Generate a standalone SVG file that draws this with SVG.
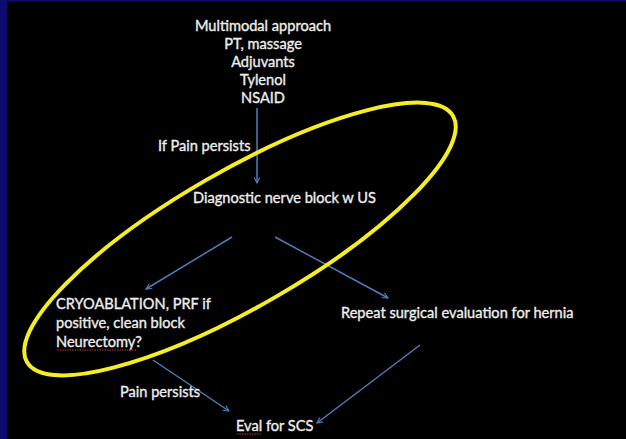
<svg xmlns="http://www.w3.org/2000/svg" width="626" height="439" viewBox="0 0 626 439">
  <style>
    .t { font-family: Lato, "Liberation Sans", sans-serif; font-size: 14.6px; fill: #eeeeee; stroke: #eeeeee; stroke-width: 0.35px; }
    .c { text-anchor: middle; }
    .a { stroke: #4a7ebb; stroke-width: 1.5; fill: none; }
    .sq { stroke: #c83232; stroke-width: 1; stroke-dasharray: 1.5 1; fill: none; }
  </style>
  <defs>
    <marker id="arr" viewBox="0 0 10 10" refX="9" refY="5" markerWidth="7" markerHeight="7" markerUnits="userSpaceOnUse" orient="auto">
      <path d="M1,1 L9,5 L1,9" fill="none" stroke="#4a7ebb" stroke-width="1.6"/>
    </marker>
  </defs>
  <rect x="0" y="0" width="626" height="439" fill="#000000"/>
  <rect x="0" y="0" width="626" height="1.5" fill="#0c0c6e"/>
  <rect x="0" y="0" width="7" height="439" fill="#0c0c6e"/>

  <g id="connectors">
    <line class="a" x1="257" y1="108" x2="257" y2="183" marker-end="url(#arr)"/>
    <line class="a" x1="232" y1="237" x2="146" y2="289" marker-end="url(#arr)"/>
    <line class="a" x1="275" y1="237" x2="388" y2="298" marker-end="url(#arr)"/>
    <line class="a" x1="153" y1="360" x2="229" y2="411" marker-end="url(#arr)"/>
    <line class="a" x1="420" y1="345" x2="317" y2="423" marker-end="url(#arr)"/>
  </g>

  <g id="ellipse">
    <ellipse cx="240" cy="239" rx="246" ry="68" transform="rotate(-30 240 239)" fill="none" stroke="#f4ee22" stroke-width="4"/>
  </g>

  <g id="n-multimodal">
    <text class="t c" x="263" y="31">Multimodal approach</text>
    <text class="t c" x="263" y="49">PT, massage</text>
    <text class="t c" x="263" y="67">Adjuvants</text>
    <text class="t c" x="263" y="85">Tylenol</text>
    <text class="t c" x="263" y="103">NSAID</text>
  </g>
  <g id="l-ifpain">
    <text class="t" x="158" y="151">If Pain persists</text>
  </g>
  <g id="n-diagnostic">
    <text class="t" x="193" y="203">Diagnostic nerve block w US</text>
  </g>
  <g id="n-cryo">
    <text class="t" x="56" y="309">CRYOABLATION, PRF if</text>
    <text class="t" x="56" y="328">positive, clean block</text>
    <text class="t" x="56" y="347">Neurectomy?</text>
    <path class="sq" d="M57,350 L136,350"/>
  </g>
  <g id="n-repeat">
    <text class="t" x="341" y="318">Repeat surgical evaluation for hernia</text>
  </g>
  <g id="l-painpersists">
    <text class="t" x="120" y="397">Pain persists</text>
  </g>
  <g id="n-scs">
    <text class="t" x="236" y="431">Eval for SCS</text>
    <path class="sq" d="M237,434 L262,434"/>
  </g>
</svg>
